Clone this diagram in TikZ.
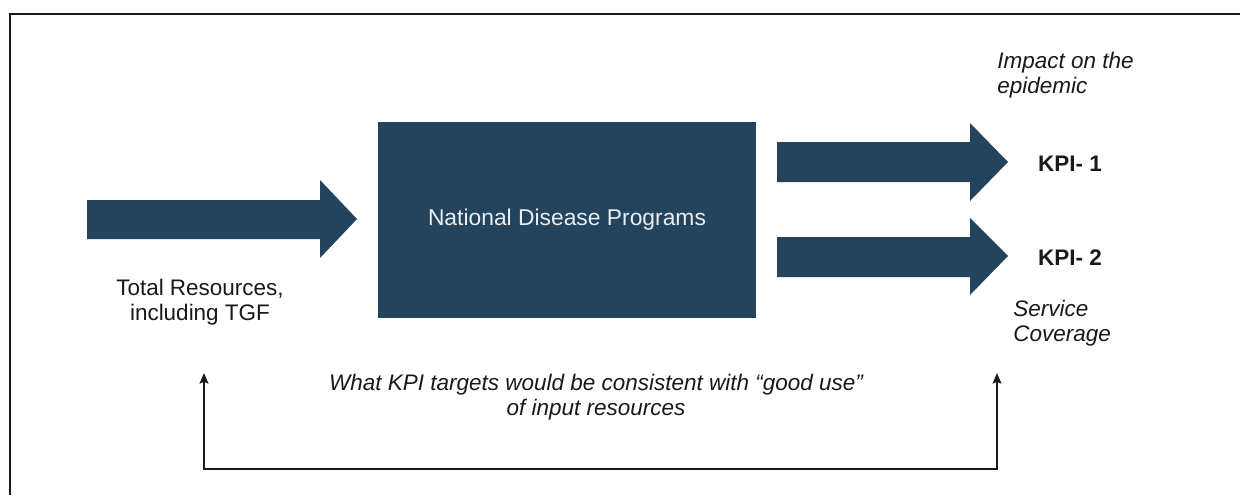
\documentclass[tikz,border=0pt]{standalone}
\usepackage{fontspec}
\setmainfont{Liberation Sans}
\usetikzlibrary{arrows.meta}

\definecolor{navy}{RGB}{36,67,92}
\definecolor{boxtext}{RGB}{232,238,242}
\definecolor{ink}{RGB}{25,25,25}

\tikzset{
    blockarrow/.style={fill=navy},
    label/.style={text=ink, font=\fontsize{12.8}{14.4}\selectfont, align=center, inner sep=0pt},
    note/.style={label, font=\fontsize{12.8}{14.4}\selectfont\itshape},
    feedback/.style={draw=ink, line width=1.1pt, {Stealth[length=6pt,width=5pt,inset=1pt]}-{Stealth[length=6pt,width=5pt,inset=1pt]}}
}

\begin{document}
\begin{tikzpicture}[x=0.02cm, y=-0.02cm]
    \useasboundingbox (0,0) rectangle (1240,495);

    % Frame (top and left edges only)
    \draw[ink, line width=1.5pt] (1240,14) -- (10,14) -- (10,495);

    % Main block
    \node[fill=navy, minimum width=7.58cm, minimum height=3.92cm, inner sep=0pt,
          text=boxtext, font=\fontsize{13}{15}\selectfont] (ndp) at (567,220) {National Disease Programs};

    % Block arrows in and out
    \fill[blockarrow] (87,200) -- (320,200) -- (320,180) -- (357,219) -- (320,258) -- (320,239) -- (87,239) -- cycle;
    \fill[blockarrow] (777,142) -- (970,142) -- (970,123) -- (1008,162) -- (970,201) -- (970,182) -- (777,182) -- cycle;
    \fill[blockarrow] (777,237) -- (970,237) -- (970,218) -- (1008,256) -- (970,295) -- (970,277) -- (777,277) -- cycle;

    % Labels
    \node[label] (resources) at (200,302) {Total Resources,\\including TGF};
    \node[label, font=\fontsize{12.8}{14.4}\selectfont\bfseries] (kpione) at (1070,164) {KPI- 1};
    \node[label, font=\fontsize{12.8}{14.4}\selectfont\bfseries] (kpitwo) at (1070,258) {KPI- 2};
    \node[note, align=left, anchor=west] (impact) at (997,75) {Impact on the\\epidemic};
    \node[note, align=left, anchor=west] (coverage) at (1013,323) {Service\\Coverage};
    \node[note] (question) at (596,397) {What KPI targets would be consistent with “good use”\\of input resources};

    % Feedback loop
    \coordinate (fbleft) at (204,373);
    \coordinate (fbright) at (997,373);
    \coordinate (fbbase) at (600,469);
    \draw[feedback] (fbleft) |- (fbbase) -| (fbright);
\end{tikzpicture}
\end{document}
